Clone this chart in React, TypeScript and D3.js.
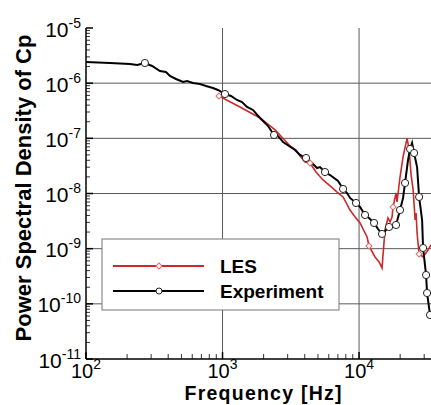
import React from 'react';
import * as d3 from 'd3';

const W = 431;
const H = 405;
const plot = { left: 86, top: 28, right: 431, bottom: 359 };

// axis ticks
const xMajor = [100, 1000, 10000];
const xExp = ['2', '3', '4'];
const yMajor = [1e-5, 1e-6, 1e-7, 1e-8, 1e-9, 1e-10, 1e-11];
const yExp = ['-5', '-6', '-7', '-8', '-9', '-10', '-11'];

// Experiment (black, circles)
const expFreq = [100, 150, 210, 237, 270, 305, 348, 385, 412, 456, 514, 550, 608, 684, 757, 851, 926, 1042, 1153, 1277,
  1389, 1511, 1671, 1882, 1981, 2155, 2384, 2551, 2775, 3069, 3395, 3696, 4089, 4524, 4922, 5175, 5632, 6134, 6561, 7018,
  7637, 8170, 8590, 9504, 10170, 11060, 11830, 12880, 13770, 14730, 15770, 16590, 17740, 18660, 19960, 21000, 21720,
  22850, 23650, 24450, 25300, 26610, 27540, 28960, 29440, 30970, 31490, 33110];
const expPsd = [2.42e-6, 2.32e-6, 2.22e-6, 2.13e-6, 2.32e-6, 2.05e-6, 1.66e-6, 1.59e-6, 1.35e-6, 1.19e-6, 1.05e-6, 1.09e-6,
  1.01e-6, 9.66e-7, 8.89e-7, 8.17e-7, 7.52e-7, 6.36e-7, 5.85e-7, 4.96e-7, 4.56e-7, 3.7e-7, 3.27e-7, 2.34e-7, 2.06e-7,
  1.67e-7, 1.15e-7, 1.1e-7, 8.58e-8, 7.27e-8, 6.15e-8, 4.99e-8, 4.4e-8, 3.57e-8, 2.9e-8, 3.02e-8, 2.45e-8, 2.16e-8,
  1.91e-8, 1.69e-8, 1.21e-8, 1.02e-8, 8.3e-9, 6.73e-9, 5.7e-9, 4.08e-9, 3.6e-9, 2.92e-9, 2.27e-9, 1.85e-9, 2.18e-9,
  2.47e-9, 2.58e-9, 2.69e-9, 5.02e-9, 8.3e-9, 1.55e-8, 4.05e-8, 6.41e-8, 8.24e-8, 5.42e-8, 3.02e-8, 8.65e-9, 3.31e-9,
  1.03e-9, 3.33e-10, 1.57e-10, 6.28e-11];
const expMarkerIdx = [4, 17, 26, 32, 36, 40, 43, 45, 47, 49, 51, 53, 54, 56, 58, 60, 62, 64, 65, 66, 67];

// LES (red, diamonds)
const lesFreq = [942, 1343, 1882, 2427, 3126, 3451, 3696, 4018, 4375, 4839, 5448, 6134, 6905, 7637, 8590, 9348, 10170,
  11450, 11830, 13090, 14020, 14730, 15490, 16290, 16860, 17450, 17740, 18660, 18970, 19960, 21000, 22480, 23260, 24060,
  24890, 25740, 26150, 26610, 27540, 29440, 32010, 33650];
const lesPsd = [5.85e-7, 3.7e-7, 2.34e-7, 1.42e-7, 7.27e-8, 6.15e-8, 4.79e-8, 3.72e-8, 3.57e-8, 2.45e-8, 1.76e-8, 1.37e-8,
  1.06e-8, 8.65e-9, 5.02e-9, 3.75e-9, 2.92e-9, 1.63e-9, 1.12e-9, 7.07e-10, 5.74e-10, 4.47e-10, 2.18e-9, 3.6e-9, 3.05e-9,
  3.75e-9, 5.7e-9, 1.02e-8, 7.02e-9, 1.99e-8, 4.59e-8, 1.01e-7, 6.15e-8, 2.17e-8, 1.16e-8, 3.31e-9, 4.43e-9, 1.92e-9,
  8.01e-10, 7.07e-10, 9.46e-10, 1.17e-9];
const lesMarkerIdx = [0, 8, 18, 26, 38];

const font = '"Liberation Sans", Arial, sans-serif';
const red = '#cc2a2a';

const App = () => {
  const x = d3.scaleLog().domain([100, 33650]).range([plot.left, plot.right]);
  const y = d3.scaleLog().domain([1e-5, 1e-11]).range([plot.top, plot.bottom]);

  const line = d3.line<[number, number]>()
    .x(d => x(d[0]))
    .y(d => y(d[1]));

  const expPts: [number, number][] = expFreq.map((f, i) => [f, expPsd[i]]);
  const lesPts: [number, number][] = lesFreq.map((f, i) => [f, lesPsd[i]]);

  const xMinor = x.ticks().filter(t => !xMajor.includes(t));
  const yMinor = d3.scaleLog().domain([1e-11, 1e-5]).ticks()
    .filter(t => Math.abs(Math.log10(t) - Math.round(Math.log10(t))) > 1e-6);

  const diamond = d3.symbol(d3.symbolSquare, 18)();

  return (
    <svg width={W} height={H} style={{ position: 'absolute', left: 0, top: 0, background: '#fff' }}
      fontFamily={font}>
      <defs>
        <clipPath id="plotClip">
          <rect x={plot.left} y={plot.top - 5} width={plot.right - plot.left + 5} height={plot.bottom - plot.top + 5} />
        </clipPath>
      </defs>

      {/* grid */}
      {yMajor.slice(1, -1).map(v => (
        <line key={'gy' + v} x1={plot.left} x2={plot.right} y1={y(v)} y2={y(v)} stroke="#5a5a5a" strokeWidth={1} />
      ))}
      {xMajor.slice(1).map(v => (
        <line key={'gx' + v} x1={x(v)} x2={x(v)} y1={plot.top} y2={plot.bottom} stroke="#5a5a5a" strokeWidth={1} />
      ))}

      {/* minor ticks */}
      {yMinor.map(v => (
        <line key={'my' + v} x1={plot.left} x2={plot.left + 4} y1={y(v)} y2={y(v)} stroke="#333" strokeWidth={1} />
      ))}
      {yMajor.map(v => (
        <line key={'My' + v} x1={plot.left} x2={plot.left + 7} y1={y(v)} y2={y(v)} stroke="#000" strokeWidth={1.5} />
      ))}
      {xMinor.map(v => (
        <line key={'mx' + v} x1={x(v)} x2={x(v)} y1={plot.bottom} y2={plot.bottom - 5} stroke="#333" strokeWidth={1} />
      ))}
      {xMajor.map(v => (
        <line key={'Mx' + v} x1={x(v)} x2={x(v)} y1={plot.bottom} y2={plot.bottom - 7} stroke="#000" strokeWidth={1.5} />
      ))}

      {/* curves */}
      <g clipPath="url(#plotClip)">
        <path d={line(lesPts) ?? ''} fill="none" stroke={red} strokeWidth={1.6} />
        <path d={line(expPts) ?? ''} fill="none" stroke="#000" strokeWidth={2} />
        {lesMarkerIdx.map(i => (
          <path key={'ld' + i} d={diamond ?? ''} transform={`translate(${x(lesFreq[i])},${y(lesPsd[i])}) rotate(45)`}
            fill="#fff" stroke="#e06b6b" strokeWidth={1} />
        ))}
        {expMarkerIdx.map(i => (
          <circle key={'ec' + i} cx={x(expFreq[i])} cy={y(expPsd[i])} r={3.6} fill="#fff" stroke="#222" strokeWidth={1} />
        ))}
      </g>

      {/* axes */}
      <line x1={plot.left} x2={plot.left} y1={plot.top} y2={plot.bottom} stroke="#000" strokeWidth={1.5} />
      <line x1={plot.left} x2={plot.right} y1={plot.bottom} y2={plot.bottom} stroke="#000" strokeWidth={1.5} />

      {/* y tick labels */}
      {yMajor.map((v, i) => (
        <text key={'yl' + v} x={81} y={y(v) + 8.5} textAnchor="end" fontSize={21} fill="#000">
          10<tspan fontSize={14} dy={-9}>{yExp[i]}</tspan>
        </text>
      ))}
      {/* x tick labels */}
      {xMajor.map((v, i) => (
        <text key={'xl' + v} x={x(v)} y={378} textAnchor="middle" fontSize={20} fill="#000">
          10<tspan fontSize={14} dy={-9}>{xExp[i]}</tspan>
        </text>
      ))}

      {/* titles */}
      <text x={263} y={400} textAnchor="middle" fontSize={19.5} fontWeight="bold" fill="#000"
        textLength={157} lengthAdjust="spacing">Frequency [Hz]</text>
      <text transform="translate(31,188) rotate(-90)" textAnchor="middle" fontSize={22} fontWeight="bold" fill="#000">
        Power Spectral Density of Cp
      </text>

      {/* legend */}
      <g>
        <rect x={102} y={239} width={237} height={71} fill="#fff" stroke="#777" strokeWidth={1} />
        <line x1={113} x2={204} y1={266} y2={266} stroke={red} strokeWidth={2} />
        <path d={diamond ?? ''} transform="translate(159,266) rotate(45)" fill="#fff" stroke="#e06b6b" strokeWidth={1} />
        <text x={220} y={273} fontSize={19} fontWeight="bold" fill="#000">LES</text>
        <line x1={113} x2={204} y1={291} y2={291} stroke="#000" strokeWidth={2} />
        <circle cx={159} cy={291} r={3} fill="#fff" stroke="#222" strokeWidth={1} />
        <text x={220} y={298} fontSize={19} fontWeight="bold" fill="#000">Experiment</text>
      </g>
    </svg>
  );
};

export default App;
